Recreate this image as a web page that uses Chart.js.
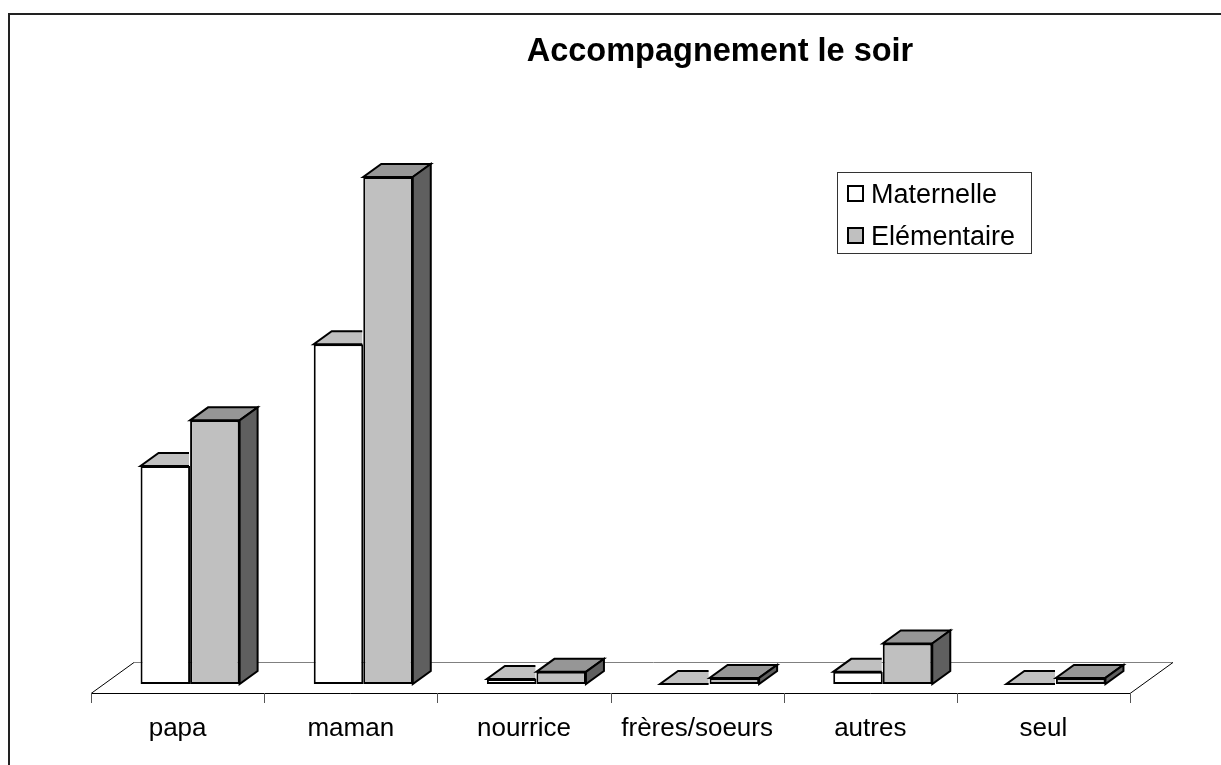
<!DOCTYPE html>
<html>
<head>
<meta charset="utf-8">
<script src="https://cdn.jsdelivr.net/npm/chart.js@4/dist/chart.umd.min.js"></script>
<style>
  body { margin: 0; background: #fff; }
  #wrap { width: 1221px; height: 765px; position: relative; }
</style>
</head>
<body>
<div id="wrap"><canvas id="soirChart"></canvas></div>
<script>
// Data
const categories = ['papa', 'maman', 'nourrice', 'frères/soeurs', 'autres', 'seul'];
const maternelle = [43, 67, 1, 0, 2.4, 0];
const elementaire = [52, 100, 2.4, 1.2, 8, 1.2];
const seriesNames = ['Maternelle', 'Elémentaire'];
const chartTitle = 'Accompagnement le soir';

// 3D look
const DX = 18, DY = 13;           // bar depth offset
const FLOOR_FRONT = 9, FLOOR_BACK = 22; // floor edges relative to bar base
const frontColors = ['#ffffff', '#c0c0c0'];
const topColors = ['#c0c0c0', '#969696'];
const sideColor = '#5f5f5f';
const FONT = '"Liberation Sans", Arial, sans-serif';

function face(ctx, pts, fill) {
    ctx.beginPath();
    ctx.moveTo(pts[0][0], pts[0][1]);
    for (let k = 1; k < pts.length; k++) ctx.lineTo(pts[k][0], pts[k][1]);
    ctx.closePath();
    ctx.fillStyle = fill;
    ctx.fill();
    ctx.stroke();
}

const bars3d = {
    id: 'bars3d',
    beforeDraw(chart) {
        const ctx = chart.ctx;
        ctx.save();
        // outer frame
        ctx.strokeStyle = '#222';
        ctx.lineWidth = 2;
        ctx.strokeRect(9, 14, 1400, 1000);
        ctx.restore();
    },
    beforeDatasetsDraw(chart) {
        const ctx = chart.ctx;
        const area = chart.chartArea;
        const base = chart.scales.y.getPixelForValue(0);
        const fy = base + FLOOR_FRONT, by = base - FLOOR_BACK;
        const fdx = FLOOR_FRONT * DX / DY, bdx = FLOOR_BACK * DX / DY;
        const fl = area.left - fdx, fr = area.right - fdx;
        const bl = area.left + bdx, br = area.right + bdx;
        ctx.save();
        ctx.lineWidth = 1;
        // back edge
        ctx.strokeStyle = '#808080';
        ctx.beginPath();
        ctx.moveTo(bl, by + 0.5); ctx.lineTo(br, by + 0.5);
        ctx.stroke();
        // front edge and sides
        ctx.strokeStyle = '#000';
        ctx.beginPath();
        ctx.moveTo(bl, by + 0.5); ctx.lineTo(fl, fy + 0.5); ctx.lineTo(fr, fy + 0.5); ctx.lineTo(br, by + 0.5);
        ctx.stroke();
        // category ticks
        ctx.strokeStyle = '#555';
        const w = (area.right - area.left) / categories.length;
        for (let i = 0; i <= categories.length; i++) {
            const x = Math.round(fl + i * w) + 0.5;
            ctx.beginPath();
            ctx.moveTo(x, fy); ctx.lineTo(x, fy + 10);
            ctx.stroke();
        }
        // category labels
        ctx.fillStyle = '#000';
        ctx.font = '26px ' + FONT;
        ctx.textAlign = 'center';
        ctx.textBaseline = 'alphabetic';
        const xs = chart.scales.x;
        categories.forEach((c, i) => {
            ctx.fillText(c, xs.getPixelForValue(i) - fdx, 736);
        });
        ctx.restore();
    },
    afterDatasetsDraw(chart) {
        const ctx = chart.ctx;
        const m0 = chart.getDatasetMeta(0), m1 = chart.getDatasetMeta(1);
        ctx.save();
        ctx.strokeStyle = '#000';
        ctx.lineWidth = 2;
        ctx.lineJoin = 'miter';
        categories.forEach((_, i) => {
            const a = m0.data[i], b = m1.data[i];
            // maternelle top, the part right of it sits behind the other bar
            const al = a.x - a.width / 2, ar = a.x + a.width / 2;
            ctx.save();
            ctx.beginPath();
            ctx.rect(0, 0, ar - 1, chart.height);
            ctx.clip();
            face(ctx, [[al, a.y], [ar, a.y], [ar + DX, a.y - DY], [al + DX, a.y - DY]], topColors[0]);
            ctx.restore();
            // elementaire top and side
            const bl = b.x - b.width / 2, br = b.x + b.width / 2;
            face(ctx, [[bl, b.y], [br, b.y], [br + DX, b.y - DY], [bl + DX, b.y - DY]], topColors[1]);
            face(ctx, [[br, b.y], [br + DX, b.y - DY], [br + DX, b.base - DY], [br, b.base]], sideColor);
        });
        ctx.restore();
    },
    afterDraw(chart) {
        const ctx = chart.ctx;
        ctx.save();
        // title
        ctx.fillStyle = '#000';
        ctx.font = 'bold 32.5px ' + FONT;
        ctx.textAlign = 'center';
        ctx.textBaseline = 'alphabetic';
        ctx.fillText(chartTitle, 720, 61);
        // legend
        ctx.strokeStyle = '#333';
        ctx.lineWidth = 1;
        ctx.fillStyle = '#fff';
        ctx.fillRect(838, 172, 194, 81);
        ctx.strokeRect(837.5, 172.5, 194, 81);
        ctx.font = '27px ' + FONT;
        ctx.textAlign = 'left';
        seriesNames.forEach((name, i) => {
            const y = 186 + i * 42;
            ctx.fillStyle = frontColors[i];
            ctx.fillRect(848, y, 15, 15);
            ctx.strokeStyle = '#000';
            ctx.lineWidth = 2;
            ctx.strokeRect(848, y, 15, 15);
            ctx.fillStyle = '#000';
            ctx.fillText(name, 871, y + 17);
        });
        ctx.restore();
    }
};

const ctx = document.getElementById('soirChart').getContext('2d');
const soirChart = new Chart(ctx, {
    type: 'bar',
    data: {
        labels: categories,
        datasets: [
            {
                label: seriesNames[0],
                data: maternelle,
                backgroundColor: frontColors[0],
                borderColor: '#000',
                borderWidth: 2,
                borderSkipped: false,
            },
            {
                label: seriesNames[1],
                data: elementaire,
                backgroundColor: frontColors[1],
                borderColor: '#000',
                borderWidth: 2,
                borderSkipped: false,
            }
        ],
    },
    options: {
        responsive: true,
        maintainAspectRatio: false,
        animation: false,
        layout: {
            padding: { left: 103.5, right: 78.5, top: 75.6, bottom: 81 },
        },
        datasets: {
            bar: { categoryPercentage: 0.572, barPercentage: 1 },
        },
        scales: {
            x: { display: false },
            y: { display: false, min: 0, max: 120 },
        },
        plugins: {
            legend: { display: false },
            title: { display: false },
            tooltip: { enabled: false },
        },
    },
    plugins: [bars3d],
});
</script>
</body>
</html>
